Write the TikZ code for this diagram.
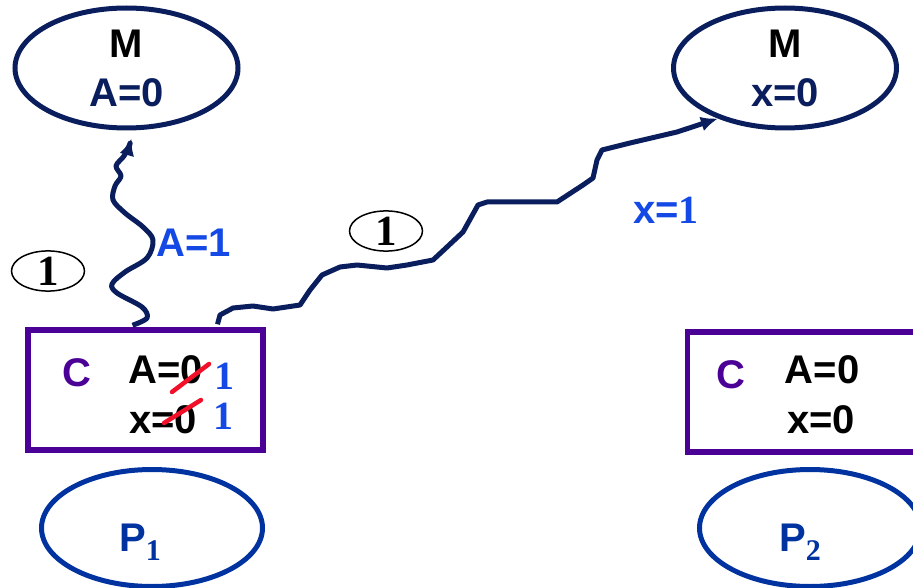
\documentclass[tikz,border=0pt]{standalone}
\usepackage{fontspec}
\setmainfont{Liberation Sans}
\newfontfamily\numfont{Liberation Serif}
\usetikzlibrary{shapes.geometric,arrows.meta,positioning}

\definecolor{navy}{HTML}{0A1E5E}
\definecolor{royal}{HTML}{0033A0}
\definecolor{valblue}{HTML}{1449E6}
\definecolor{cpurple}{HTML}{4B0096}
\definecolor{strike}{HTML}{F0102A}

\newcommand\bigtxt{\fontsize{40}{49}\selectfont\bfseries}
\newcommand\bignum{\numfont\fontsize{43}{48}\selectfont\bfseries}

\tikzset{
  mem/.style={ellipse, draw=navy, line width=5pt, minimum width=223pt,
    minimum height=120pt, align=center, inner sep=0pt, font=\bigtxt},
  proc/.style={ellipse, draw=royal, line width=5pt, minimum width=221pt,
    minimum height=117pt, inner sep=0pt},
  ptext/.style={inner sep=0pt, text=royal, font=\bigtxt},
  cachebox/.style={draw=cpurple, line width=5.5pt, minimum width=235pt,
    minimum height=120pt},
  val/.style={inner sep=0pt, font=\bigtxt},
  newval/.style={inner sep=0pt, text=valblue,
    font=\numfont\fontsize{40}{40}\selectfont\bfseries},
  stepnum/.style={ellipse, draw, line width=1.5pt, minimum width=73pt,
    minimum height=38pt, inner sep=0pt, font=\bignum},
  msg/.style={navy, line width=5pt, line join=round,
    -{Latex[length=17pt,width=15pt]}},
  crossout/.style={strike, line width=4.5pt, line cap=round}
}

\begin{document}
\begin{tikzpicture}[x=1pt,y=-1pt]
\useasboundingbox (0,0) rectangle (913,588);
\clip (0,0) rectangle (913,588);

% memory
\node[mem] (memA) at (126.5,68) {M\\\textcolor{navy}{A=0}};
\node[mem] (memX) at (785,68) {M\\\textcolor{navy}{x=0}};

% caches
\node[cachebox] (cacheL) at (145.5,390) {};
\node[cachebox] (cacheR) at (805,392) {};
\node[val, text=cpurple] (cL) at (77,373) {C};
\node[val] (aL) at (166,370) {A=0};
\node[val] (xL) at (163,420) {x=0};
\node[val, text=cpurple] (cR) at (731,375) {C};
\node[val] (aR) at (822,370) {A=0};
\node[val] (xR) at (821,420) {x=0};

% overwritten values
\draw[crossout] (172,392) -- (209,364);
\draw[crossout] (164,423) -- (201,400);
\node[newval] (aNew) at (224,376) {1};
\node[newval] (xNew) at (223,416) {1};

% processors
\node[proc] (p1) at (152,528) {};
\node[proc] (p2) at (810,528) {};
\node[ptext] at ([xshift=-12pt,yshift=-14pt]p1.center)
  {P\raisebox{-9pt}{\numfont\fontsize{30}{30}\selectfont 1}};
\node[ptext] at ([xshift=-10pt,yshift=-14pt]p2.center)
  {P\raisebox{-9pt}{\numfont\fontsize{30}{30}\selectfont 2}};

% write messages
\coordinate (srcA) at ([xshift=-13pt,yshift=2pt]cacheL.north);
\coordinate (srcX) at ([xshift=72pt,yshift=3pt]cacheL.north);
\coordinate (dstA) at ([xshift=5pt,yshift=-8pt]memA.south);
\coordinate (dstX) at (memX.217);

\draw[msg] plot[smooth, tension=0.55] coordinates {(srcA) (147,318) (142,307)
  (117,293) (112,284) (125,272) (147,258) (153,240) (143,227) (125,213)
  (113,200) (115,186) (121,176) (116,166) (124,156) (129,146) (dstA)};
\draw[msg] plot coordinates {(srcX) (220,315) (233,308) (253,306) (273,309)
  (300,305) (310,290) (322,275) (340,267) (357,265) (387,268) (407,265)
  (433,260) (447,247) (463,232) (478,205) (487,202) (557,202) (583,185)
  (593,178) (597,160) (602,150) (630,143) (677,132) (dstX)};

% labels
\node[stepnum] (stepA) at (48,271) {1};
\node[stepnum] (stepX) at (386,231) {1};
\node[val, text=valblue] (lblA) at (194,243) {A=1};
\node[val, text=valblue] (lblX) at (666,210) {x=\numfont 1};
\end{tikzpicture}
\end{document}
